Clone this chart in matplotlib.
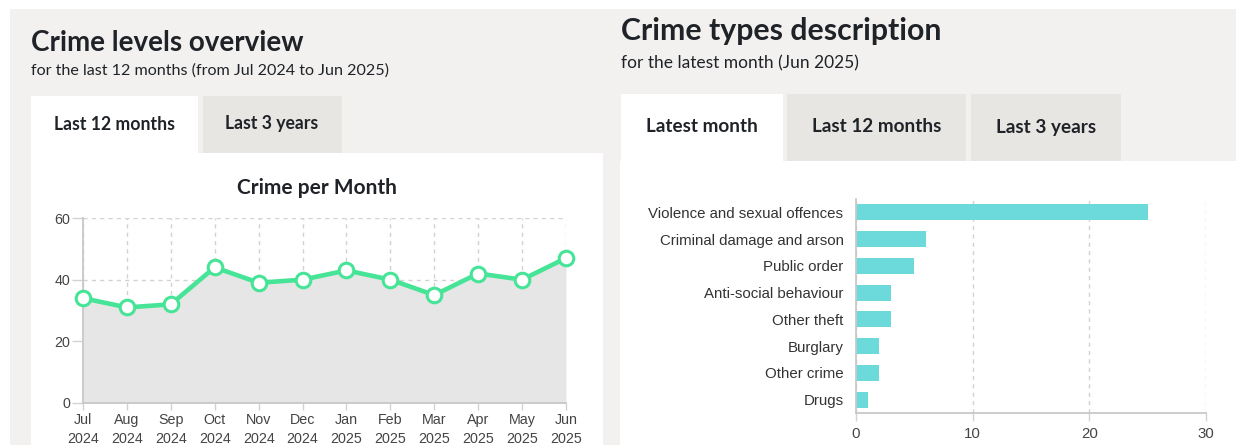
###Crime dashboard - two chart panels


##import modules
import matplotlib
matplotlib.use('Agg')
import matplotlib.pyplot as plt
from matplotlib.patches import Rectangle

##data
months = ['Jul\n2024', 'Aug\n2024', 'Sep\n2024', 'Oct\n2024', 'Nov\n2024', 'Dec\n2024',
          'Jan\n2025', 'Feb\n2025', 'Mar\n2025', 'Apr\n2025', 'May\n2025', 'Jun\n2025']
crimes_per_month = [34, 31, 32, 44, 39, 40, 43, 40, 35, 42, 40, 47]
crime_types = ['Violence and sexual offences', 'Criminal damage and arson', 'Public order',
               'Anti-social behaviour', 'Other theft', 'Burglary', 'Other crime', 'Drugs']
crime_counts = [25, 6, 5, 3, 3, 2, 2, 1]
left_tabs = ['Last 12 months', 'Last 3 years']
right_tabs = ['Latest month', 'Last 12 months', 'Last 3 years']

##styles
W, H = 1236, 445 #figure size (px)
panel_col = '#f2f1ef'
tab_col = '#e8e6e3'
text_col = '#1f2328'
tick_col = '#444444'
grid_col = '#d2d2d2'
line_col = '#46e496'
fill_col = '#e6e6e6'
bar_col = '#6cdada'
title_font = 'Lato'
tick_font = 'Liberation Sans'

#helper to place axes by pixel box
def px_axes(left, top, right, bottom):
    return fig.add_axes([left/W, 1 - bottom/H, (right-left)/W, (bottom-top)/H])

fig = plt.figure(figsize=(W/100, H/100), dpi=100)
fig.patch.set_facecolor('white')

##background, panels and tabs
bg = fig.add_axes([0, 0, 1, 1])
bg.set_xlim(0, W)
bg.set_ylim(H, 0)
bg.axis('off')
bg.add_patch(Rectangle((10, 9), W - 10, H - 9, color=panel_col, lw=0))
#left panel tabs and content
bg.add_patch(Rectangle((31, 96), 167, 58, color='white', lw=0))
bg.add_patch(Rectangle((203, 96), 139, 57, color=tab_col, lw=0))
bg.add_patch(Rectangle((31, 153), 572, H - 153, color='white', lw=0))
#right panel tabs and content
bg.add_patch(Rectangle((621, 94), 162, 68, color='white', lw=0))
bg.add_patch(Rectangle((787, 94), 179, 67, color=tab_col, lw=0))
bg.add_patch(Rectangle((971, 94), 150, 67, color=tab_col, lw=0))
bg.add_patch(Rectangle((620, 161), W - 620, H - 161, color='white', lw=0))

#titles
bg.text(31, 43, 'Crime levels overview', fontsize=20, fontweight='bold', family=title_font,
        color=text_col, va='center', ha='left')
bg.text(31, 71, 'for the last 12 months (from Jul 2024 to Jun 2025)', fontsize=11.6,
        family=title_font, color=text_col, va='center', ha='left')
bg.text(621, 31, 'Crime types description', fontsize=21.8, fontweight='bold', family=title_font,
        color=text_col, va='center', ha='left')
bg.text(621, 63, 'for the latest month (Jun 2025)', fontsize=12.5, family=title_font,
        color=text_col, va='center', ha='left')

#tab labels
for x, lab in zip([114, 272], left_tabs):
    bg.text(x, 124, lab, fontsize=12.7, fontweight='bold', family=title_font,
            color=text_col, va='center', ha='center')
for x, lab in zip([702, 877, 1046], right_tabs):
    bg.text(x, 127, lab, fontsize=13.6, fontweight='bold', family=title_font,
            color=text_col, va='center', ha='center')

#chart title
bg.text(317, 188, 'Crime per Month', fontsize=15, fontweight='bold', family=title_font,
        color=text_col, va='center', ha='center')

##left chart - crime per month
ax1 = px_axes(83, 218, 566, 403)
x = list(range(len(months)))
ax1.fill_between(x, crimes_per_month, 0, color=fill_col, lw=0, zorder=1)
ax1.plot(x, crimes_per_month, color=line_col, lw=3.3, marker='o', ms=10.5,
         mfc='white', mec=line_col, mew=2.2, clip_on=False, zorder=3)
ax1.set_xlim(0, len(months) - 1)
ax1.set_ylim(0, 60)
ax1.set_yticks([0, 20, 40, 60])
ax1.set_xticks(x)
ax1.set_xticklabels(months, linespacing=1.5)
ax1.grid(True, color=grid_col, ls=(0, (3, 3)), lw=1, zorder=0)
ax1.set_axisbelow(True)
for s in ['top', 'right']:
    ax1.spines[s].set_visible(False)
for s in ['left', 'bottom']:
    ax1.spines[s].set_color('#c8c8c8')
    ax1.spines[s].set_linewidth(1.3)
ax1.tick_params(axis='y', length=8, width=1, color=grid_col, pad=1, labelsize=10.3, labelcolor=tick_col)
ax1.tick_params(axis='x', length=5, width=1, color=grid_col, pad=2, labelsize=10.3, labelcolor=tick_col)
ax1.set_facecolor('none')
for lab in ax1.get_xticklabels() + ax1.get_yticklabels():
    lab.set_fontfamily(tick_font)

##right chart - crime types
ax2 = px_axes(856, 199, 1206, 413)
ax2.barh(crime_types, crime_counts, height=0.6, color=bar_col, zorder=2)
ax2.set_xlim(0, 30)
ax2.set_ylim(len(crime_types) - 0.5, -0.5)
ax2.set_xticks([0, 10, 20, 30])
ax2.grid(True, axis='x', color=grid_col, ls=(0, (3, 3)), lw=1, zorder=0)
ax2.set_axisbelow(True)
for s in ['top', 'right']:
    ax2.spines[s].set_visible(False)
for s in ['left', 'bottom']:
    ax2.spines[s].set_color('#c8c8c8')
    ax2.spines[s].set_linewidth(1.3)
ax2.tick_params(axis='y', length=0, pad=9, labelsize=10.8, labelcolor='#333333')
ax2.tick_params(axis='x', length=6, width=1, color=grid_col, pad=4, labelsize=10.8, labelcolor=tick_col)
ax2.set_facecolor('none')
for lab in ax2.get_xticklabels() + ax2.get_yticklabels():
    lab.set_fontfamily(tick_font)

##save
fig.savefig('out.png', dpi=100, facecolor=fig.get_facecolor())
